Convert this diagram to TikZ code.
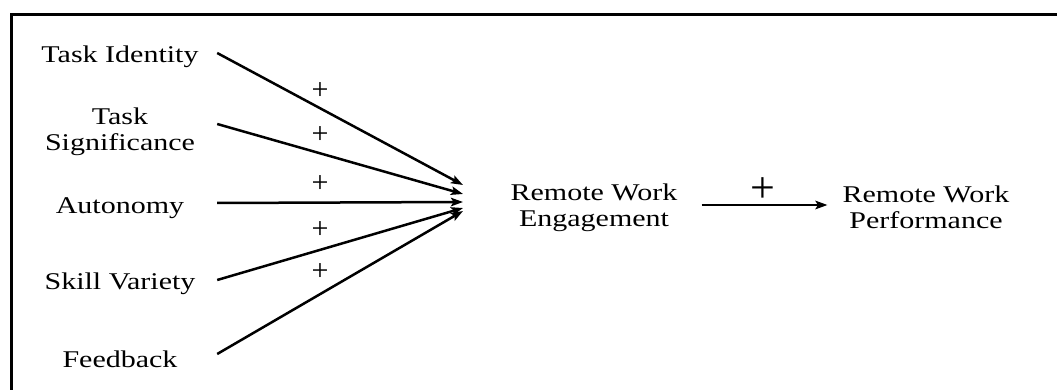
\documentclass[tikz,border=0pt]{standalone}
\usepackage{fontspec}
\setmainfont{Liberation Serif}
\usetikzlibrary{arrows.meta}
% text is set slightly compressed vertically
\newcommand\squash[1]{\scalebox{1}[0.8]{#1}}
\newcommand\twolines[2]{\squash{\begin{tabular}{@{}c@{}}#1\\#2\end{tabular}}}

\begin{document}
\begin{tikzpicture}[x=1pt,y=-1pt,
  txt/.style={font=\fontsize{30}{32.5}\selectfont, inner sep=0pt},
  src/.style={txt, minimum width=194pt},
  plus/.style={font=\fontsize{30}{30}\selectfont, inner sep=0pt},
  bigplus/.style={font=\fontsize{44}{44}\selectfont, inner sep=0pt},
  link/.style={line width=2.5pt, -{Stealth[length=12pt,width=8.5pt,inset=2.5pt]}},
]
\useasboundingbox (0,0) rectangle (1057,390);
% frame
\draw[line width=3pt, line join=miter] (11.5,400) -- (11.5,14.5) -- (1070,14.5);

% job characteristics
\node[src] (ti) at (120,57)  {\squash{Task Identity}};
\node[src] (ts) at (120,132) {\twolines{Task}{Significance}};
\node[src] (au) at (120,208) {\squash{Autonomy}};
\node[src] (sv) at (120,284) {\squash{Skill Variety}};
\node[src] (fb) at (120,359) {\squash{Feedback}};

% outcomes
\node[txt] (rwe) at (594,208) {\twolines{Remote Work}{Engagement}};
\node[txt] (rwp) at (926,210) {\twolines{Remote Work}{Performance}};

% arrow tips converging on engagement
\coordinate (t1) at (463,185);
\coordinate (t2) at (463,194);
\coordinate (t3) at (463,202);
\coordinate (t4) at (463,208);
\coordinate (t5) at (463,211);

\draw[link] ([yshift=4pt]ti.east) -- (t1);
\draw[link] ([yshift=8pt]ts.east) -- (t2);
\draw[link] ([yshift=5pt]au.east) -- (t3);
\draw[link] ([yshift=4pt]sv.east) -- (t4);
\draw[link] ([yshift=5pt]fb.east) -- (t5);

\node[plus] (p1) at (320,91)  {+};
\node[plus] (p2) at (320,135) {+};
\node[plus] (p3) at (320,184) {+};
\node[plus] (p4) at (320,230) {+};
\node[plus] (p5) at (320,272) {+};

\draw[link, shorten <=24pt, shorten >=15pt] ([yshift=3pt]rwe.east) -- ([yshift=5pt]rwp.west);
\node[bigplus] (p6) at (763,190) {+};
\end{tikzpicture}
\end{document}
